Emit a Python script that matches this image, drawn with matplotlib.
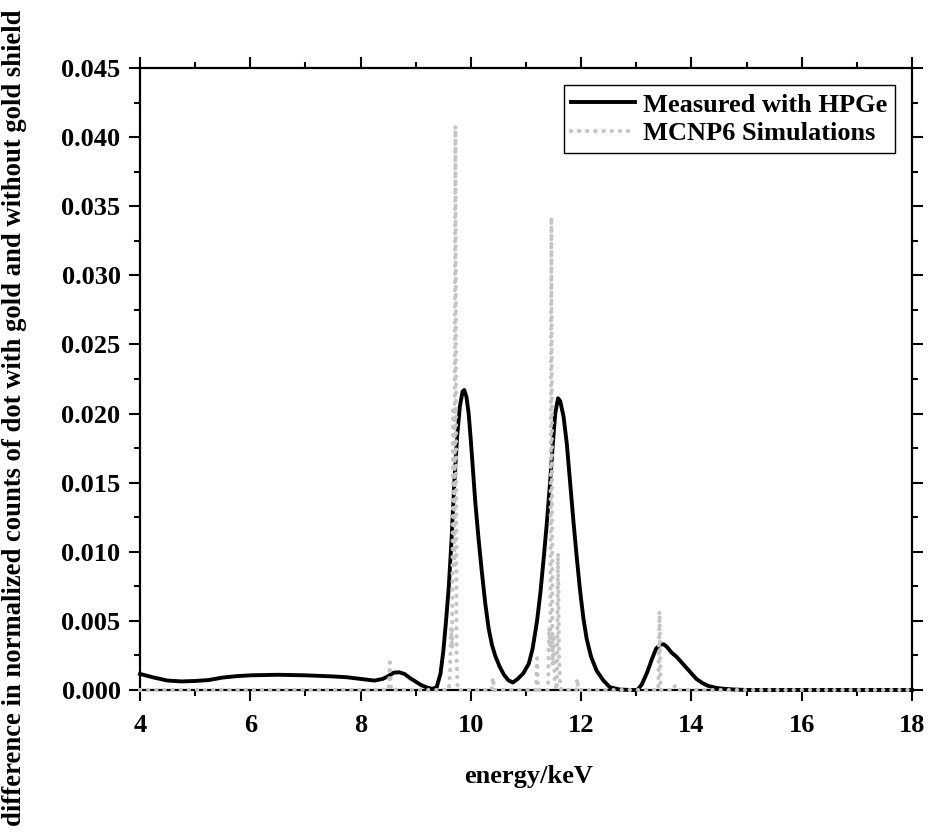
import matplotlib
matplotlib.use("Agg")
import matplotlib.pyplot as plt
from matplotlib.ticker import MultipleLocator, FormatStrFormatter

# measured spectrum difference (HPGe)
hpge_energy = [4.0, 4.25, 4.5, 4.75, 5.0, 5.25, 5.5, 5.75, 6.0, 6.5, 7.0, 7.5, 7.75,
               8.0, 8.25, 8.4, 8.5, 8.6, 8.7, 8.8, 8.9, 9.0, 9.1, 9.2, 9.3, 9.38,
               9.45, 9.5, 9.55, 9.6, 9.65, 9.7, 9.75, 9.8, 9.85, 9.88, 9.92, 9.96,
               10.0, 10.04, 10.08, 10.14, 10.2, 10.26, 10.32, 10.38, 10.44, 10.52,
               10.6, 10.68, 10.76, 10.85, 10.95, 11.05, 11.12, 11.2, 11.26, 11.32,
               11.38, 11.44, 11.49, 11.53, 11.58, 11.62, 11.68, 11.74, 11.8, 11.86,
               11.92, 11.98, 12.04, 12.1, 12.18, 12.28, 12.4, 12.52, 12.7, 12.9,
               13.02, 13.1, 13.2, 13.28, 13.36, 13.44, 13.5, 13.56, 13.64, 13.73,
               13.82, 13.91, 14.0, 14.09, 14.2, 14.3, 14.45, 14.6, 14.8, 15.0, 18.0]
hpge_diff = [0.00116, 0.00090, 0.00068, 0.00062, 0.00065, 0.00072, 0.00090, 0.00100,
             0.00106, 0.00110, 0.00106, 0.00098, 0.00092, 0.00080, 0.00068, 0.00080,
             0.00100, 0.00125, 0.00128, 0.00115, 0.00085, 0.00060, 0.00035, 0.00018,
             0.00008, 0.00020, 0.0012, 0.0028, 0.0050, 0.0075, 0.0109, 0.0150, 0.0183,
             0.0205, 0.0216, 0.0217, 0.0212, 0.0200, 0.0180, 0.0158, 0.0136, 0.0109,
             0.0085, 0.0063, 0.0045, 0.0033, 0.0025, 0.0017, 0.0011, 0.0007, 0.00054,
             0.0008, 0.0012, 0.0019, 0.0030, 0.0050, 0.0070, 0.0095, 0.0122, 0.0152,
             0.0180, 0.0200, 0.0211, 0.0209, 0.0198, 0.0178, 0.0150, 0.0122, 0.0096,
             0.0072, 0.0052, 0.0037, 0.0024, 0.0014, 0.0007, 0.0002, 0.00003, 0.0,
             0.0, 0.0004, 0.0013, 0.0022, 0.0030, 0.0033, 0.0033, 0.0031, 0.0027,
             0.0024, 0.0020, 0.0016, 0.0012, 0.0008, 0.0005, 0.0003, 0.00015, 0.00008,
             0.00003, 0.0, 0.0]

# MCNP6 simulated difference
sim_energy = [4.0, 8.51, 8.53, 8.55, 9.60, 9.62, 9.64, 9.66, 9.68, 9.70, 9.72, 9.74,
              9.76, 10.38, 10.40, 10.42, 11.18, 11.20, 11.22, 11.40, 11.42, 11.44,
              11.46, 11.48, 11.50, 11.52, 11.56, 11.58, 11.60, 11.62, 11.64, 11.91,
              11.93, 11.95, 13.40, 13.42, 13.44, 13.68, 13.70, 13.74, 13.78, 18.0]
sim_diff = [0.0, 0.0, 0.0020, 0.0, 0.0, 0.0012, 0.0045, 0.0030, 0.0205, 0.0090,
            0.0408, 0.0025, 0.0, 0.0, 0.0009, 0.0, 0.0, 0.0023, 0.0, 0.0, 0.0045,
            0.0032, 0.0342, 0.0018, 0.0040, 0.0006, 0.0, 0.0099, 0.0025, 0.0004, 0.0,
            0.0, 0.0008, 0.0, 0.0, 0.0057, 0.0, 0.0, 0.0003, 0.0003, 0.0, 0.0]

plt.rcParams['font.family'] = ['Liberation Serif', 'DejaVu Serif']
plt.rcParams['font.weight'] = 'bold'
plt.rcParams['axes.labelweight'] = 'bold'

fig = plt.figure(figsize=(9.31, 8.33), dpi=100)
ax = fig.add_axes([0.1504, 0.1717, 0.8292, 0.7467])

ax.plot(hpge_energy, hpge_diff, color='black', lw=2.8, zorder=2.8,
        clip_on=False, label='Measured with HPGe')
ax.plot(sim_energy, sim_diff, color='#c4c4c4', lw=3.0, linestyle=(0, (0.05, 1.9)),
        dash_capstyle='round', zorder=3, clip_on=False, label='MCNP6 Simulations')

ax.set_xlim(4, 18)
ax.set_ylim(0, 0.045)
ax.xaxis.set_major_locator(MultipleLocator(2))
ax.xaxis.set_minor_locator(MultipleLocator(1))
ax.yaxis.set_major_locator(MultipleLocator(0.005))
ax.yaxis.set_minor_locator(MultipleLocator(0.0025))
ax.yaxis.set_major_formatter(FormatStrFormatter('%.3f'))

ax.tick_params(which='both', direction='out', top=True, right=True,
               labeltop=False, labelright=False, width=1.5, labelsize=19)
ax.tick_params(which='major', length=8, pad=6)
ax.tick_params(which='minor', length=4.5)
ax.tick_params(axis='x', which='major', pad=9)
for s in ax.spines.values():
    s.set_linewidth(1.6)

ax.set_xlabel('energy/keV', fontsize=19)
ax.set_ylabel('difference in normalized counts of dot with gold and without gold shield',
              fontsize=19.2)
ax.xaxis.set_label_coords(0.503, -0.121)
ax.yaxis.set_label_coords(-0.147, 0.437)

leg = ax.legend(loc='upper right', fontsize=19, frameon=True, fancybox=False,
                edgecolor='black', framealpha=1, borderpad=0.3, handlelength=2.4,
                labelspacing=0.2, handletextpad=0.3, borderaxespad=0.65)
leg.get_frame().set_linewidth(1.0)

fig.savefig('out.png', dpi=100)
